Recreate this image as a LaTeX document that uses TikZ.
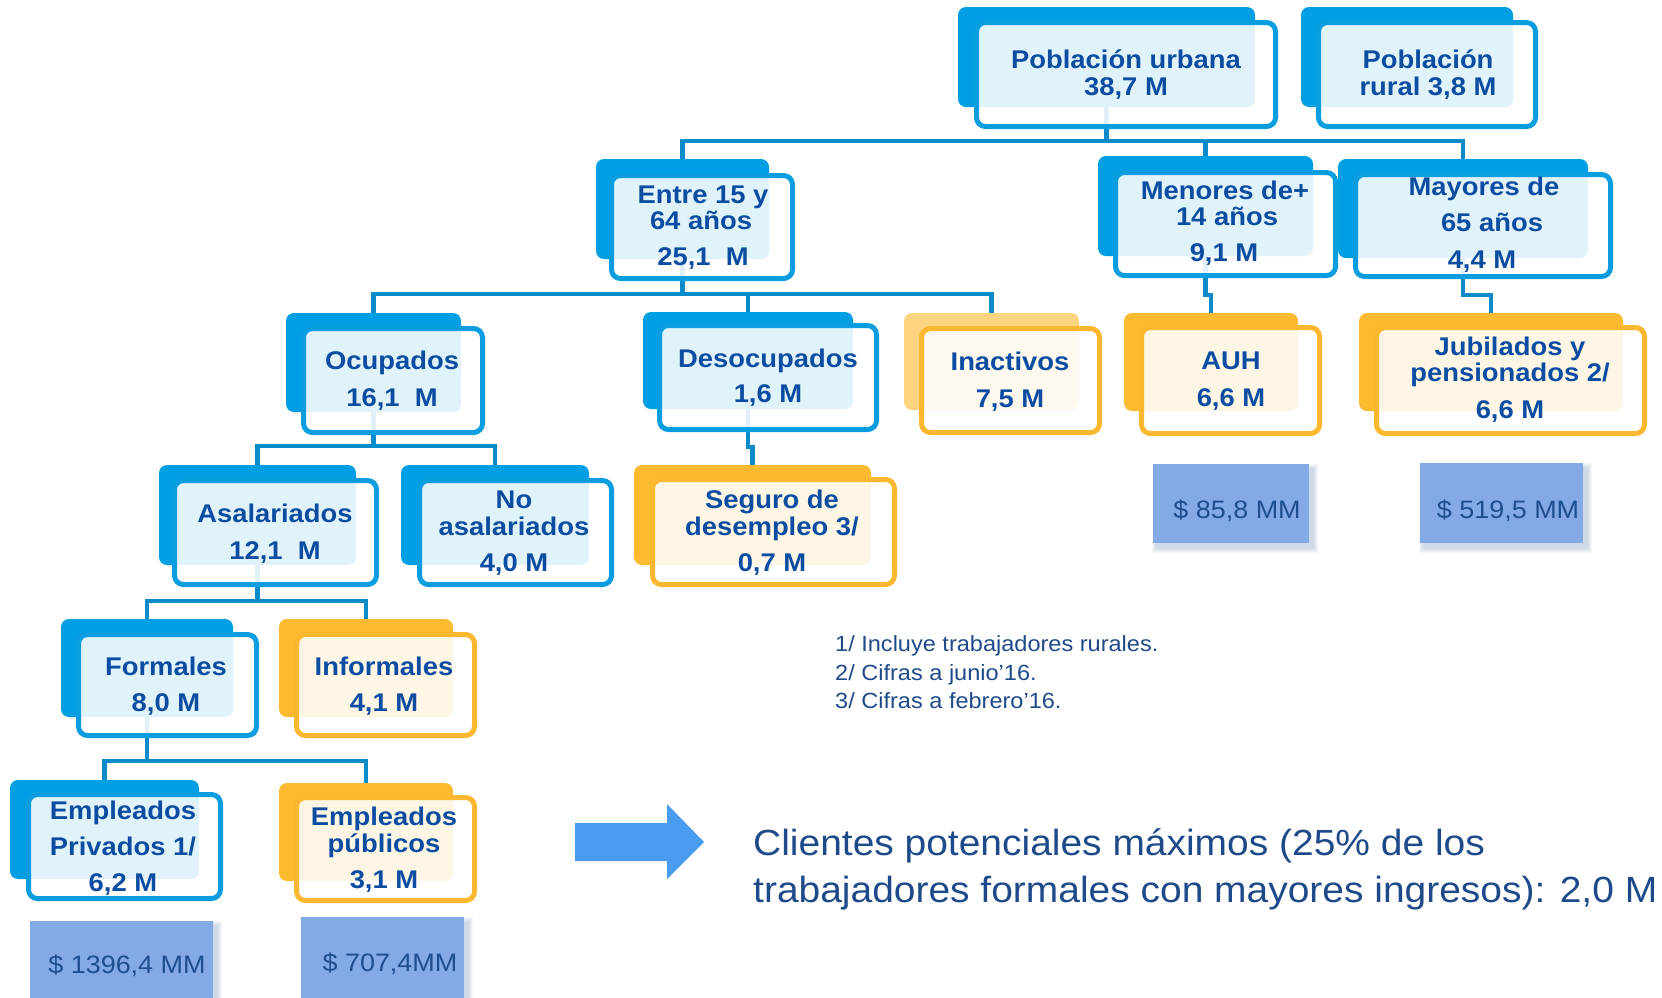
\documentclass[tikz,border=0pt]{standalone}
\usepackage{fontspec}
\setmainfont{Liberation Sans}[FakeStretch=1.07]
\usetikzlibrary{calc}
\definecolor{cB}{HTML}{009FE3}
\definecolor{cF}{HTML}{0A9DE0}
\definecolor{cC}{HTML}{0C8BCB}
\definecolor{cT}{HTML}{0C4DA2}
\definecolor{cO}{HTML}{FBBA30}
\definecolor{cOL}{HTML}{FDD580}
\definecolor{cOF}{HTML}{FBB82E}
\definecolor{cM}{HTML}{84AAE6}
\definecolor{cMT}{HTML}{1E4E8E}
\definecolor{cFt}{HTML}{1F4A8A}
\definecolor{cA}{HTML}{4A9CF0}
\pgfdeclarelayer{bg}
\pgfsetlayers{bg,main}
\newcommand{\rb}[6]{\node[#2, minimum width={#5-#3}, minimum height={#6-#4}] (#1) at ({(#3+#5)/2},{(#4+#6)/2}) {};}
\newcommand{\rf}[6]{\node[#2, minimum width={#5-#3-5}, minimum height={#6-#4-5}] (#1) at ({(#3+#5)/2},{(#4+#6)/2}) {};}
\newcommand{\tl}[4]{\node[tb] (#1) at (#2,#3) {#4};}
\tikzset{
  bkB/.style={rectangle, fill=cB, rounded corners=8pt, inner sep=0pt, outer sep=0pt, draw=none},
  bkO/.style={bkB, fill=cO},
  bkL/.style={bkB, fill=cOL},
  frB/.style={rectangle, draw=cF, line width=5pt, rounded corners=9pt, fill=white, fill opacity=0.88, inner sep=0pt, outer sep=0pt},
  frO/.style={frB, draw=cOF},
  tb/.style={text=cT, font=\bfseries\fontsize{25.6}{26}\selectfont, anchor=base, inner sep=0pt},
  conn/.style={draw=cC, line width=4.5pt},
  mm/.style={rectangle, fill=cM, inner sep=0pt, outer sep=0pt},
  mmt/.style={text=cMT, font=\fontsize{25.2}{26}\selectfont, anchor=base, inner sep=0pt},
  fnote/.style={text=cFt, font=\fontsize{22}{24}\selectfont, anchor=base west, inner sep=0pt},
  big/.style={text=cFt, font=\fontsize{36.4}{38}\selectfont, anchor=base west, inner sep=0pt}
}
\begin{document}
\begin{tikzpicture}[x=1pt,y=-1pt]
\useasboundingbox (0,0) rectangle (1662,997);
\begin{pgfonlayer}{bg}
\fill[white] (0,0) rectangle (1662,997);
\end{pgfonlayer}
% ---------- boxes ----------
\rb{puB}{bkB}{958}{7}{1255}{107}   \rf{puF}{frB}{974}{20}{1278}{129}
\rb{prB}{bkB}{1301}{7}{1513}{107}  \rf{prF}{frB}{1316}{20}{1538}{129}
\rb{enB}{bkB}{596}{159}{769}{259}  \rf{enF}{frB}{609}{173}{795}{281}
\rb{meB}{bkB}{1098}{156}{1313}{256} \rf{meF}{frB}{1113}{170}{1338}{278}
\rb{maB}{bkB}{1338}{159}{1588}{258} \rf{maF}{frB}{1353}{172}{1613}{279}
\rb{ocB}{bkB}{286}{313}{461}{412}  \rf{ocF}{frB}{301}{326}{485}{435}
\rb{deB}{bkB}{643}{312}{853}{409}  \rf{deF}{frB}{657}{323}{879}{432}
\rb{inB}{bkL}{904}{313}{1079}{410} \rf{inF}{frO}{919}{326}{1102}{435}
\rb{auB}{bkO}{1124}{313}{1298}{411} \rf{auF}{frO}{1139}{325}{1322}{436}
\rb{juB}{bkO}{1359}{313}{1623}{411} \rf{juF}{frO}{1374}{325}{1647}{436}
\rb{asB}{bkB}{159}{465}{356}{565}  \rf{asF}{frB}{172}{478}{379}{587}
\rb{naB}{bkB}{401}{465}{589}{565}  \rf{naF}{frB}{417}{478}{614}{587}
\rb{seB}{bkO}{634}{465}{871}{565}  \rf{seF}{frO}{650}{477}{897}{587}
\rb{foB}{bkB}{61}{619}{233}{717}   \rf{foF}{frB}{76}{632}{259}{738}
\rb{ifB}{bkO}{279}{619}{453}{717}  \rf{ifF}{frO}{294}{632}{477}{738}
\rb{epB}{bkB}{10}{780}{199}{879}   \rf{epF}{frB}{26}{792}{223}{901}
\rb{euB}{bkO}{279}{783}{453}{881}  \rf{euF}{frO}{294}{795}{477}{903}
% ---------- connectors ----------
\coordinate (b1) at (0,141);
\coordinate (b2) at (0,294);
\coordinate (b3) at (0,295);
\coordinate (b4) at (0,446);
\coordinate (b5) at (0,447);
\coordinate (b6) at (0,601);
\coordinate (b7) at (0,761);
\begin{pgfonlayer}{bg}
\draw[conn] (puB.center) -- (puB.center |- b1) -| (enB.north);
\draw[conn] (puB.center |- b1) -| (meB.north);
\draw[conn] (puB.center |- b1) -| (maB.north);
\draw[conn] (enB.center) -- (enB.center |- b2) -| (ocB.north);
\draw[conn] (enB.center |- b2) -| (deB.north);
\draw[conn] (enB.center |- b2) -| (inB.north);
\draw[conn] (meB.center) -- (meB.center |- b3) -| (auB.north);
\draw[conn] (maB.center) -- (maB.center |- b3) -| (juB.north);
\draw[conn] (ocB.center) -- (ocB.center |- b4) -| (asB.north);
\draw[conn] (ocB.center |- b4) -| (naB.north);
\draw[conn] (deB.center) -- (deB.center |- b5) -| (seB.north);
\draw[conn] (asB.center) -- (asB.center |- b6) -| (foB.north);
\draw[conn] (asB.center |- b6) -| (ifB.north);
\draw[conn] (foB.center) -- (foB.center |- b7) -| (epB.north);
\draw[conn] (foB.center |- b7) -| (euB.north);
\end{pgfonlayer}
% ---------- box texts ----------
\tl{pu1}{1126}{68}{Población urbana}
\tl{pu2}{1126}{95}{38,7 M}
\tl{pr1}{1428}{68}{Población}
\tl{pr2}{1428}{95}{rural 3,8 M}
\tl{en1}{703}{203}{Entre 15 y}
\tl{en2}{701}{229}{64 años}
\tl{en3}{703}{265}{25,1~~M}
\tl{me1}{1225}{199}{Menores de+}
\tl{me2}{1227}{225}{14 años}
\tl{me3}{1224}{261}{9,1 M}
\tl{ma1}{1484}{195}{Mayores de}
\tl{ma2}{1492}{231}{65 años}
\tl{ma3}{1482}{268}{4,4 M}
\tl{oc1}{392}{369}{Ocupados}
\tl{oc2}{392}{406}{16,1~~M}
\tl{de1}{768}{367}{Desocupados}
\tl{de2}{768}{402}{1,6 M}
\tl{in1}{1010}{370}{Inactivos}
\tl{in2}{1010}{407}{7,5 M}
\tl{au1}{1231}{369}{AUH}
\tl{au2}{1231}{406}{6,6 M}
\tl{ju1}{1510}{355}{Jubilados y}
\tl{ju2}{1510}{381}{pensionados 2/}
\tl{ju3}{1510}{418}{6,6 M}
\tl{as1}{275}{522}{Asalariados}
\tl{as2}{275}{559}{12,1~~M}
\tl{na1}{514}{508}{No}
\tl{na2}{514}{535}{asalariados}
\tl{na3}{514}{571}{4,0 M}
\tl{se1}{772}{508}{Seguro de}
\tl{se2}{772}{535}{desempleo 3/}
\tl{se3}{772}{571}{0,7 M}
\tl{fo1}{166}{675}{Formales}
\tl{fo2}{166}{711}{8,0 M}
\tl{if1}{384}{675}{Informales}
\tl{if2}{384}{711}{4,1 M}
\tl{ep1}{123}{819}{Empleados}
\tl{ep2}{123}{855}{Privados 1/}
\tl{ep3}{123}{891}{6,2 M}
\tl{eu1}{384}{825}{Empleados}
\tl{eu2}{384}{852}{públicos}
\tl{eu3}{384}{888}{3,1 M}
% ---------- money boxes ----------
\foreach \k in {1,...,5}{\fill[cMT, opacity=0.045] ({1153+4-\k},{464+5-\k}) rectangle ({1309+4+\k},{543+5+\k});}
\node[mm, minimum width=156, minimum height=79] (m1) at (1231,503.5) {};
\node[mmt] (m1t) at (1237,518) {\$ 85,8 MM};
\foreach \k in {1,...,5}{\fill[cMT, opacity=0.045] ({1420+4-\k},{463+5-\k}) rectangle ({1583+4+\k},{543+5+\k});}
\node[mm, minimum width=163, minimum height=80] (m2) at (1501.5,503) {};
\node[mmt] (m2t) at (1508,518) {\$ 519,5 MM};
\foreach \k in {1,...,5}{\fill[cMT, opacity=0.045] ({30+4-\k},{921+5-\k}) rectangle ({213+4+\k},{1005+5+\k});}
\node[mm, minimum width=183, minimum height=84] (m3) at (121.5,963) {};
\node[mmt] (m3t) at (127,973) {\$ 1396,4 MM};
\foreach \k in {1,...,5}{\fill[cMT, opacity=0.045] ({301+4-\k},{917+5-\k}) rectangle ({464+4+\k},{1005+5+\k});}
\node[mm, minimum width=163, minimum height=88] (m4) at (382.5,961) {};
\node[mmt] (m4t) at (390,971) {\$ 707,4MM};
% ---------- footnotes ----------
\node[fnote] (f1) at (835,651) {1/ Incluye trabajadores rurales.};
\node[fnote] (f2) at (835,680) {2/ Cifras a junio’16.};
\node[fnote] (f3) at (835,708) {3/ Cifras a febrero’16.};
% ---------- arrow and conclusion ----------
\fill[cA] (575,823) -- (667,823) -- (667,804) -- (704,842) -- (667,879) -- (667,861) -- (575,861) -- cycle;
\node[big] (c1) at (753,855) {Clientes potenciales máximos (25\% de los};
\node[big] (c2) at (753,902) {trabajadores formales con mayores ingresos): 2,0 M};
\end{tikzpicture}
\end{document}
